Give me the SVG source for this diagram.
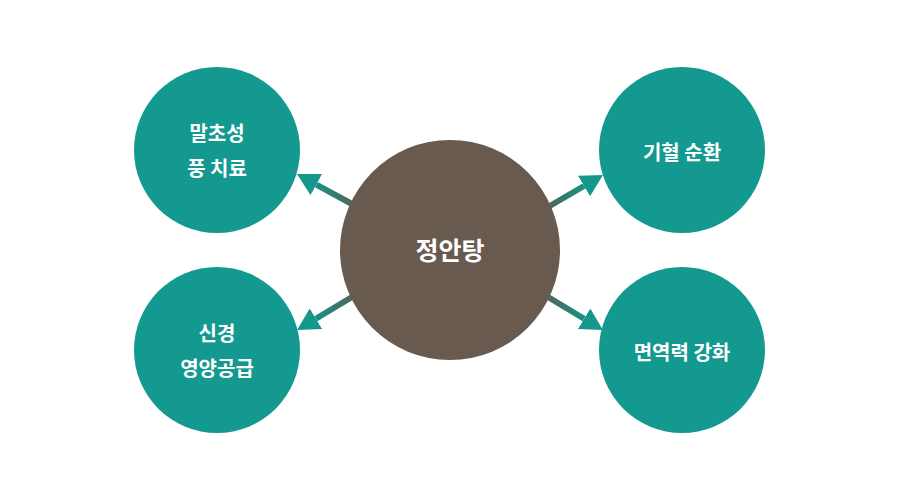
<svg xmlns="http://www.w3.org/2000/svg" width="900" height="500" viewBox="0 0 900 500">
<style>
.sat{fill:#13998f}
.hub{fill:#695a50}
.t{font-family:"Noto Sans CJK KR","Noto Sans",sans-serif;font-weight:700;fill:#ffffff;text-anchor:middle;dominant-baseline:central}
.s{font-size:20px}
.c{font-size:25px}
.ln{stroke-width:6;fill:none;marker-end:url(#ah)}
</style>
<defs>
<marker id="ah" markerUnits="userSpaceOnUse" markerWidth="24" markerHeight="26" viewBox="0 -13 24 26" refX="0" refY="0" orient="auto">
<path d="M0,-12 L22,0 L0,12 z" fill="#16978c"/>
</marker>
<linearGradient id="g1" gradientUnits="userSpaceOnUse" x1="352" y1="204" x2="316" y2="185"><stop offset="0" stop-color="#4f675e"/><stop offset="1" stop-color="#1a9085"/></linearGradient>
<linearGradient id="g2" gradientUnits="userSpaceOnUse" x1="548" y1="207" x2="584" y2="186"><stop offset="0" stop-color="#4f675e"/><stop offset="1" stop-color="#1a9085"/></linearGradient>
<linearGradient id="g3" gradientUnits="userSpaceOnUse" x1="352" y1="297" x2="316" y2="318.7"><stop offset="0" stop-color="#4f675e"/><stop offset="1" stop-color="#1a9085"/></linearGradient>
<linearGradient id="g4" gradientUnits="userSpaceOnUse" x1="548" y1="297" x2="584" y2="318.7"><stop offset="0" stop-color="#4f675e"/><stop offset="1" stop-color="#1a9085"/></linearGradient>
</defs>
<rect width="900" height="500" fill="#ffffff"/>
<g id="connectors">
<path class="ln" stroke="url(#g1)" d="M352,204 L316.3,184.6"/>
<path class="ln" stroke="url(#g2)" d="M548,207 L584,186"/>
<path class="ln" stroke="url(#g3)" d="M352,297 L315.9,318.7"/>
<path class="ln" stroke="url(#g4)" d="M548,297 L584.1,318.7"/>
</g>
<g id="center">
<circle class="hub" cx="450" cy="250" r="110"/>
<text class="t c" x="450" y="249">정안탕</text>
</g>
<g id="node-tl">
<circle class="sat" cx="217" cy="150" r="83"/>
<text class="t s" x="217" y="132">말초성</text>
<text class="t s" x="217" y="167">풍 치료</text>
</g>
<g id="node-tr">
<circle class="sat" cx="682" cy="150" r="83"/>
<text class="t s" x="682" y="151">기혈 순환</text>
</g>
<g id="node-bl">
<circle class="sat" cx="217" cy="350" r="83"/>
<text class="t s" x="217" y="332">신경</text>
<text class="t s" x="217" y="367">영양공급</text>
</g>
<g id="node-br">
<circle class="sat" cx="682" cy="350" r="83"/>
<text class="t s" x="682" y="351">면역력 강화</text>
</g>
</svg>
